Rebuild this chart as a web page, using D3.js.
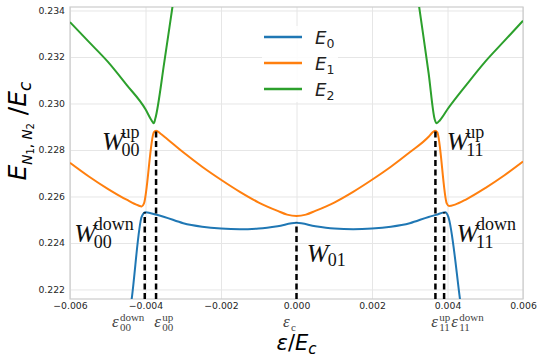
<html>
<head>
<script src="https://d3js.org/d3.v7.min.js"></script>
<style>
  body { margin: 0; background: white; }
  .grid line { stroke: #e6e6e6; stroke-width: 1; }
  .grid .domain { stroke: none; }
  .axis .tick text { font-family: "DejaVu Sans"; font-size: 9.3px; fill: #262626; }
</style>
</head>
<body>
<svg id="chart" width="540" height="357"></svg>
<script>
// values
const xTicks = [-0.006, -0.004, -0.002, 0, 0.002, 0.004, 0.006];
const yTicks = [0.222, 0.224, 0.226, 0.228, 0.230, 0.232, 0.234];
const seriesNames = ["E0", "E1", "E2"];
const seriesColors = ["#1f77b4", "#ff7f0e", "#2ca02c"];

const e0Points = [
  [-0.00445, 0.2206], [-0.004366, 0.22159], [-0.00410, 0.22513], [-0.00400, 0.22532],
  [-0.0037, 0.22521], [-0.0035, 0.22512], [-0.003, 0.22485], [-0.0025, 0.22470],
  [-0.002, 0.22462], [-0.0015, 0.22459], [-0.001, 0.22462], [-0.0005, 0.22472],
  [0, 0.22487],
  [0.0005, 0.22472], [0.001, 0.22462], [0.0015, 0.22459], [0.002, 0.22462],
  [0.0025, 0.22470], [0.003, 0.22485], [0.0035, 0.22512], [0.0037, 0.22521],
  [0.00394, 0.22532], [0.00402, 0.22513], [0.00433, 0.22159], [0.0044, 0.2207]
];
const e1Points = [
  [-0.006, 0.22745], [-0.0055, 0.22686], [-0.005, 0.22633], [-0.0045, 0.22586],
  [-0.0042, 0.22562], [-0.0041, 0.22557], [-0.00404, 0.22570], [-0.00378, 0.22876],
  [-0.00372, 0.22883], [-0.0036, 0.22870], [-0.0035, 0.22857], [-0.003, 0.22790],
  [-0.0025, 0.22728], [-0.002, 0.22672], [-0.0015, 0.22620], [-0.001, 0.22574],
  [-0.0005, 0.22538], [-0.00025, 0.22522], [0, 0.22516],
  [0.00025, 0.22522], [0.0005, 0.22538], [0.001, 0.22574], [0.0015, 0.22620],
  [0.002, 0.22672], [0.0025, 0.22728], [0.003, 0.22790], [0.0035, 0.22857],
  [0.0036, 0.22875], [0.00367, 0.22883], [0.00373, 0.22876], [0.00398, 0.22570],
  [0.00404, 0.22559], [0.0042, 0.22565], [0.0045, 0.22588], [0.005, 0.22636],
  [0.0055, 0.22690], [0.006, 0.22750]
];
const e2Points = [
  [-0.006, 0.23350], [-0.0055, 0.23265], [-0.005, 0.23180], [-0.0045, 0.23080],
  [-0.004, 0.22975], [-0.00385, 0.22930], [-0.00378, 0.22915], [-0.00374, 0.22935],
  [-0.0035, 0.2318], [-0.0033, 0.2340], [-0.0031, 0.2362],
  [0.0031, 0.2359], [0.00325, 0.23415], [0.0035, 0.2313], [0.00366, 0.22932],
  [0.00371, 0.22915], [0.0038, 0.22928], [0.004, 0.22975], [0.0045, 0.2308],
  [0.005, 0.2318], [0.0055, 0.23268], [0.006, 0.23356]
];

// dashed markers: x position and the level they reach
const markerX = [-0.00402, -0.00372, 0, 0.00368, 0.00391];
const markerTop = [0.22532, 0.22883, 0.22487, 0.22883, 0.22532];

// W annotations (data coords of the W's left/baseline)
const wLabels = [
  { x: -0.00515, y: 0.22800, sub: "00", sup: "up" },
  { x: -0.00589, y: 0.22404, sub: "00", sup: "down" },
  { x: 0.00027, y: 0.22318, sub: "01", sup: null },
  { x: 0.00398, y: 0.22800, sub: "11", sup: "up" },
  { x: 0.00424, y: 0.22405, sub: "11", sup: "down" }
];
// epsilon labels under the axis (x in data units)
const epsLabels = [
  { x: -0.00489, sub: "00", sup: "down" },
  { x: -0.00377, sub: "00", sup: "up" },
  { x: -0.00036, sub: "c", sup: null },
  { x: 0.00357, sub: "11", sup: "up" },
  { x: 0.00410, sub: "11", sup: "down" }
];

const svg = d3.select("svg#chart");
const width = +svg.attr("width");
const height = +svg.attr("height");
const margin = { top: 7, right: 17, bottom: 58, left: 70 };
const chartWidth = width - margin.left - margin.right;
const chartHeight = height - margin.top - margin.bottom;

const xScale = d3.scaleLinear().domain([-0.006, 0.006]).range([0, chartWidth]);
const yScale = d3.scaleLinear().domain([0.22159, 0.23415]).range([chartHeight, 0]);

const chartArea = svg.append("g")
  .attr("transform", `translate(${margin.left},${margin.top})`);

// gridlines
chartArea.append("g")
  .attr("class", "grid")
  .attr("transform", `translate(0,${chartHeight})`)
  .call(d3.axisBottom(xScale).tickValues(xTicks).tickSize(-chartHeight).tickFormat(""));
chartArea.append("g")
  .attr("class", "grid")
  .call(d3.axisLeft(yScale).tickValues(yTicks).tickSize(-chartWidth).tickFormat(""));

chartArea.append("rect")
  .attr("width", chartWidth)
  .attr("height", chartHeight)
  .attr("fill", "none")
  .attr("stroke", "#cccccc")
  .attr("stroke-width", 1.2);

// tick labels, no tick marks
const xAxis = chartArea.append("g")
  .attr("class", "axis")
  .attr("transform", `translate(0,${chartHeight})`)
  .call(d3.axisBottom(xScale).tickValues(xTicks).tickSize(0).tickPadding(3).tickFormat(d3.format(".3f")));
xAxis.select(".domain").remove();
const yAxis = chartArea.append("g")
  .attr("class", "axis")
  .call(d3.axisLeft(yScale).tickValues(yTicks).tickSize(0).tickPadding(5).tickFormat(d3.format(".3f")));
yAxis.select(".domain").remove();

svg.append("clipPath").attr("id", "clip")
  .append("rect").attr("width", chartWidth).attr("height", chartHeight);

const line = d3.line()
  .x(d => xScale(d[0]))
  .y(d => yScale(d[1]))
  .curve(d3.curveMonotoneX);

const plot = chartArea.append("g").attr("clip-path", "url(#clip)");
plot.append("path").datum(e0Points)
  .attr("d", line).attr("fill", "none").attr("stroke", seriesColors[0]).attr("stroke-width", 2);
plot.append("path").datum(e1Points)
  .attr("d", line).attr("fill", "none").attr("stroke", seriesColors[1]).attr("stroke-width", 2);
// E2 is split where it leaves the top of the plot
plot.append("path").datum(e2Points.slice(0, 11))
  .attr("d", line).attr("fill", "none").attr("stroke", seriesColors[2]).attr("stroke-width", 2);
plot.append("path").datum(e2Points.slice(11))
  .attr("d", line).attr("fill", "none").attr("stroke", seriesColors[2]).attr("stroke-width", 2);

// dashed verticals
markerX.forEach((mx, i) => {
  plot.append("line")
    .attr("x1", xScale(mx)).attr("x2", xScale(mx))
    .attr("y1", chartHeight).attr("y2", yScale(markerTop[i]))
    .attr("stroke", "black")
    .attr("stroke-width", 2.5)
    .attr("stroke-dasharray", "6,3.5");
});

// helper for base + sub/sup labels; scripts start at a fixed offset from the base
function mathLabel(parent, x, y, base, sub, sup, o) {
  parent.append("text")
    .attr("x", x).attr("y", y)
    .attr("font-family", o.family)
    .attr("font-style", "italic")
    .attr("font-size", o.size)
    .attr("fill", o.color)
    .text(base);
  const sx = x + o.offset;
  if (sub) parent.append("text")
    .attr("x", sx).attr("y", y + o.subDy)
    .attr("font-family", o.family)
    .attr("font-size", o.subSize)
    .attr("fill", o.color)
    .text(sub);
  if (sup) parent.append("text")
    .attr("x", sx).attr("y", y + o.supDy)
    .attr("font-family", o.family)
    .attr("font-size", o.subSize)
    .attr("fill", o.color)
    .text(sup);
}

wLabels.forEach(d => {
  mathLabel(chartArea, xScale(d.x), yScale(d.y), "W", d.sub, d.sup,
    { family: "Liberation Serif", size: 26, subSize: 18, color: "#111",
      offset: d.sup ? 19.5 : 21, subDy: d.sup ? 6 : 4, supDy: -12 });
});

epsLabels.forEach(d => {
  mathLabel(svg, margin.left + xScale(d.x), 327, "ε", d.sub, d.sup,
    { family: "Liberation Serif", size: 17, subSize: 11, color: "#444", offset: 8,
      subDy: 4, supDy: -6.5 });
});

// legend
const legend = svg.append("g").attr("transform", "translate(262,26)");
legend.append("rect").attr("width", 76).attr("height", 76).attr("fill", "white").attr("opacity", 0.85);
seriesNames.forEach((name, i) => {
  const ly = 11 + i * 26;
  legend.append("line")
    .attr("x1", 2).attr("x2", 40).attr("y1", ly).attr("y2", ly)
    .attr("stroke", seriesColors[i]).attr("stroke-width", 2.5);
  const txt = legend.append("text")
    .attr("x", 53).attr("y", ly + 7)
    .attr("font-family", "DejaVu Sans")
    .attr("font-size", 18)
    .attr("fill", "#222");
  txt.append("tspan").attr("font-style", "italic").text("E");
  txt.append("tspan").attr("font-size", 12.5).attr("dy", 4).text(name.slice(1));
});

// axis titles
const xt = svg.append("text")
  .attr("x", margin.left + chartWidth / 2)
  .attr("y", 350)
  .attr("text-anchor", "middle")
  .attr("font-family", "DejaVu Sans")
  .attr("font-size", 21)
  .attr("fill", "black");
xt.append("tspan").attr("font-style", "italic").text("ε");
xt.append("tspan").text("/");
xt.append("tspan").attr("font-style", "italic").text("E");
xt.append("tspan").attr("font-style", "italic").attr("font-size", 15).attr("dy", 4).text("c");

const yt = svg.append("text")
  .attr("transform", "translate(26,131) rotate(-90)")
  .attr("text-anchor", "middle")
  .attr("font-family", "DejaVu Sans")
  .attr("font-size", 25)
  .attr("fill", "black");
yt.append("tspan").attr("font-style", "italic").text("E");
yt.append("tspan").attr("font-style", "italic").attr("font-size", 13.5).attr("dy", 6).text("N");
yt.append("tspan").attr("font-size", 10).attr("dy", 2).text("1");
yt.append("tspan").attr("font-size", 13.5).attr("dy", -2).text(", ");
yt.append("tspan").attr("font-style", "italic").attr("font-size", 13.5).text("N");
yt.append("tspan").attr("font-size", 10).attr("dy", 2).text("2");
yt.append("tspan").attr("dy", -8).text(" /");
yt.append("tspan").attr("font-style", "italic").text("E");
yt.append("tspan").attr("font-style", "italic").attr("font-size", 17).attr("dy", 5).text("c");
</script>
</body>
</html>
